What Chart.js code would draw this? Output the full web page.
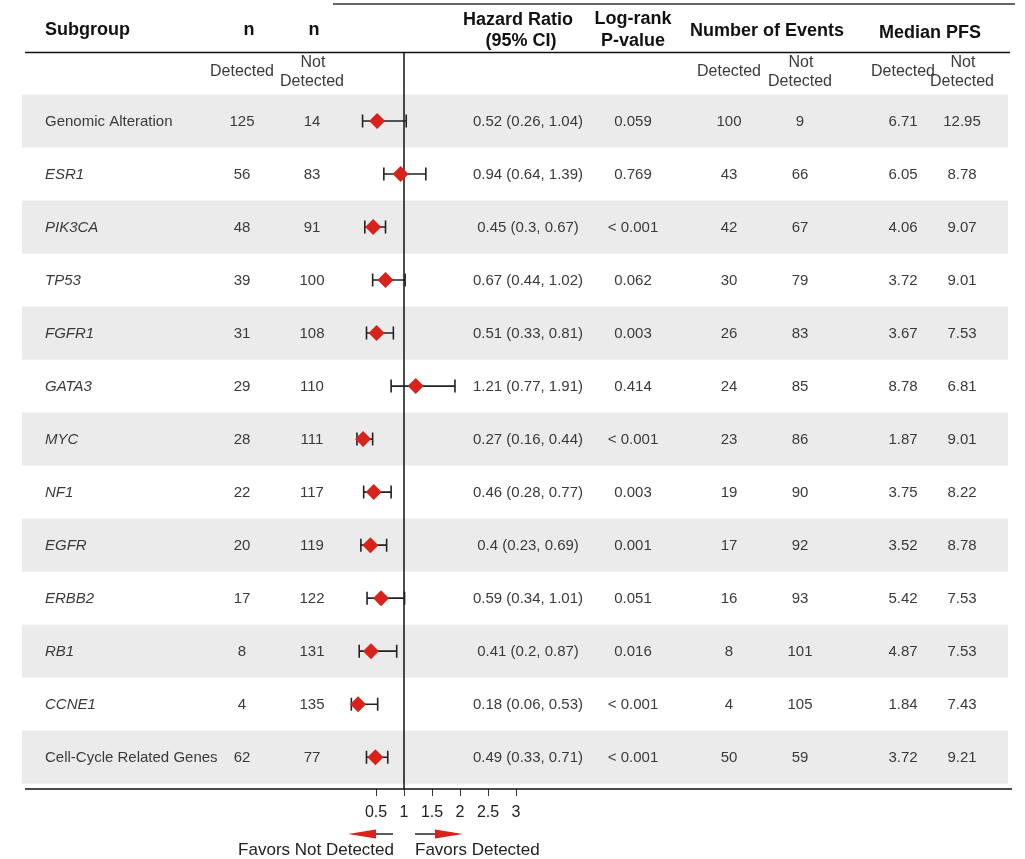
<!DOCTYPE html>
<html>
<head>
<meta charset="utf-8">
<title>Progression-free survival by subgroup</title>
<script src="https://cdn.jsdelivr.net/npm/chart.js@4.4.1/dist/chart.umd.min.js"></script>
<style>
  html, body { margin: 0; padding: 0; background: #ffffff; }
  #wrap { width: 1025px; height: 859px; }
</style>
</head>
<body>
<div id="wrap"><canvas id="forest" width="1025" height="859"></canvas></div>
<script>
// ---- table data ----
const subgroups = ['Genomic Alteration', 'ESR1', 'PIK3CA', 'TP53', 'FGFR1', 'GATA3', 'MYC',
                   'NF1', 'EGFR', 'ERBB2', 'RB1', 'CCNE1', 'Cell-Cycle Related Genes'];
const geneNames = [false, true, true, true, true, true, true, true, true, true, true, true, false];
const nDetected = [125, 56, 48, 39, 31, 29, 28, 22, 20, 17, 8, 4, 62];
const nNotDetected = [14, 83, 91, 100, 108, 110, 111, 117, 119, 122, 131, 135, 77];
const hazardRatio = [0.52, 0.94, 0.45, 0.67, 0.51, 1.21, 0.27, 0.46, 0.4, 0.59, 0.41, 0.18, 0.49];
const ciLower = [0.26, 0.64, 0.3, 0.44, 0.33, 0.77, 0.16, 0.28, 0.23, 0.34, 0.2, 0.06, 0.33];
const ciUpper = [1.04, 1.39, 0.67, 1.02, 0.81, 1.91, 0.44, 0.77, 0.69, 1.01, 0.87, 0.53, 0.71];
const pValues = ['0.059', '0.769', '< 0.001', '0.062', '0.003', '0.414', '< 0.001',
                 '0.003', '0.001', '0.051', '0.016', '< 0.001', '< 0.001'];
const eventsDetected = [100, 43, 42, 30, 26, 24, 23, 19, 17, 16, 8, 4, 50];
const eventsNotDetected = [9, 66, 67, 79, 83, 85, 86, 90, 92, 93, 101, 105, 59];
const medianPfsDetected = [6.71, 6.05, 4.06, 3.72, 3.67, 8.78, 1.87, 3.75, 3.52, 5.42, 4.87, 1.84, 3.72];
const medianPfsNotDetected = [12.95, 8.78, 9.07, 9.01, 7.53, 6.81, 9.01, 8.22, 8.78, 7.53, 7.53, 7.43, 9.21];
const hrTicks = [0.5, 1, 1.5, 2, 2.5, 3];

// ---- styling ----
const FONT = '"Liberation Sans", Arial, Helvetica, sans-serif';
const RED = '#d8231c';
const TEXT = '#3a3a3a';
const BAND = '#ebebeb';
const col = { subgroup: 45, nDet: 242, nNot: 312, hr: 528, p: 633, evDet: 729, evNot: 800, pfsDet: 903, pfsNot: 962 };
const rowIndex = subgroups.map((_, i) => i + 1);

function put(ctx, str, x, y, font, color, align) {
  ctx.font = font;
  ctx.fillStyle = color;
  ctx.textAlign = align || 'center';
  ctx.textBaseline = 'middle';
  ctx.fillText(str, x, y);
}
function hline(ctx, x1, x2, y, w, color) {
  ctx.beginPath();
  ctx.moveTo(x1, y);
  ctx.lineTo(x2, y);
  ctx.lineWidth = w;
  ctx.strokeStyle = color;
  ctx.stroke();
}

// shaded bands behind alternate rows
const bandsPlugin = {
  id: 'rowBands',
  beforeDraw(chart) {
    const ctx = chart.ctx;
    const ys = chart.scales.y;
    ctx.save();
    ctx.fillStyle = BAND;
    rowIndex.forEach((r, i) => {
      if (i % 2 === 0) {
        const top = ys.getPixelForValue(r - 0.5);
        const bot = ys.getPixelForValue(r + 0.5);
        ctx.fillRect(22, top, 986, bot - top);
      }
    });
    ctx.restore();
  }
};

// headers, rules, reference line, confidence intervals and table text
const tablePlugin = {
  id: 'forestTable',
  beforeDatasetsDraw(chart) {
    const ctx = chart.ctx;
    const xs = chart.scales.x;
    const ys = chart.scales.y;
    const bottomRule = chart.chartArea.bottom;
    ctx.save();

    // rules
    hline(ctx, 333, 1015, 4, 2, '#666666');
    hline(ctx, 25, 1010, 52.5, 1.5, '#111111');
    hline(ctx, 25, 1012, bottomRule, 1.5, '#111111');

    // reference line at HR = 1
    const x1 = xs.getPixelForValue(1);
    ctx.beginPath();
    ctx.moveTo(x1, 52.5);
    ctx.lineTo(x1, bottomRule);
    ctx.lineWidth = 1.5;
    ctx.strokeStyle = '#111111';
    ctx.stroke();

    // headers
    const H = 'bold 18px ' + FONT;
    put(ctx, 'Subgroup', col.subgroup, 30, H, '#111', 'left');
    put(ctx, 'n', 249, 30, H, '#111');
    put(ctx, 'n', 314, 30, H, '#111');
    put(ctx, 'Hazard Ratio', 518, 20, H, '#111');
    put(ctx, '(95% CI)', 521, 41, H, '#111');
    put(ctx, 'Log-rank', 633, 19, H, '#111');
    put(ctx, 'P-value', 633, 41, H, '#111');
    put(ctx, 'Number of Events', 767, 31, H, '#111');
    put(ctx, 'Median PFS', 930, 33, H, '#111');

    const S = '16px ' + FONT;
    [[col.nDet, col.nNot], [col.evDet, col.evNot], [col.pfsDet, col.pfsNot]].forEach(([a, b]) => {
      put(ctx, 'Detected', a, 72, S, TEXT);
      put(ctx, 'Not', b + 1, 63, S, TEXT);
      put(ctx, 'Detected', b, 82, S, TEXT);
    });

    // confidence intervals
    ctx.lineWidth = 1.6;
    ctx.strokeStyle = '#222222';
    rowIndex.forEach((r, i) => {
      const y = ys.getPixelForValue(r);
      const a = xs.getPixelForValue(ciLower[i]);
      const b = xs.getPixelForValue(ciUpper[i]);
      ctx.beginPath();
      ctx.moveTo(a, y); ctx.lineTo(b, y);
      ctx.moveTo(a, y - 6.5); ctx.lineTo(a, y + 6.5);
      ctx.moveTo(b, y - 6.5); ctx.lineTo(b, y + 6.5);
      ctx.stroke();
    });

    // table body
    const D = '15px ' + FONT;
    const DI = 'italic 15px ' + FONT;
    rowIndex.forEach((r, i) => {
      const y = ys.getPixelForValue(r) + 0.5;
      put(ctx, subgroups[i], col.subgroup, y, geneNames[i] ? DI : D, TEXT, 'left');
      put(ctx, String(nDetected[i]), col.nDet, y, D, TEXT);
      put(ctx, String(nNotDetected[i]), col.nNot, y, D, TEXT);
      put(ctx, hazardRatio[i] + ' (' + ciLower[i] + ', ' + ciUpper[i] + ')', col.hr, y, D, TEXT);
      put(ctx, pValues[i], col.p, y, D, TEXT);
      put(ctx, String(eventsDetected[i]), col.evDet, y, D, TEXT);
      put(ctx, String(eventsNotDetected[i]), col.evNot, y, D, TEXT);
      put(ctx, medianPfsDetected[i].toFixed(2), col.pfsDet, y, D, TEXT);
      put(ctx, medianPfsNotDetected[i].toFixed(2), col.pfsNot, y, D, TEXT);
    });

    // direction arrows under the axis
    const ay = 834;
    hline(ctx, x1 - 11, x1 - 36, ay, 1.6, '#333333');
    ctx.fillStyle = RED;
    ctx.beginPath();
    ctx.moveTo(x1 - 56, ay);
    ctx.lineTo(x1 - 28, ay - 4.5);
    ctx.lineTo(x1 - 28, ay + 4.5);
    ctx.closePath();
    ctx.fill();
    hline(ctx, x1 + 11, x1 + 38, ay, 1.6, '#333333');
    ctx.beginPath();
    ctx.moveTo(x1 + 59, ay);
    ctx.lineTo(x1 + 31, ay - 4.5);
    ctx.lineTo(x1 + 31, ay + 4.5);
    ctx.closePath();
    ctx.fill();
    const F = '17px ' + FONT;
    put(ctx, 'Favors Not Detected', x1 - 10, 850, F, '#222', 'right');
    put(ctx, 'Favors Detected', x1 + 11, 850, F, '#222', 'left');

    ctx.restore();
  }
};

new Chart(document.getElementById('forest'), {
  type: 'scatter',
  data: {
    datasets: [{
      label: 'Hazard ratio',
      data: rowIndex.map((r, i) => ({ x: hazardRatio[i], y: r })),
      pointStyle: 'rectRot',
      pointRadius: 8,
      pointHoverRadius: 8,
      backgroundColor: RED,
      borderColor: RED,
      borderWidth: 0,
      clip: false
    }]
  },
  options: {
    responsive: false,
    animation: false,
    events: [],
    layout: { padding: { left: 348, right: 509, top: 94.5, bottom: 0 } },
    plugins: { legend: { display: false }, tooltip: { enabled: false } },
    scales: {
      x: {
        type: 'linear',
        min: 0,
        max: 3,
        afterBuildTicks: (s) => { s.ticks = hrTicks.map(v => ({ value: v })); },
        afterFit: (s) => { s.height = 70; },
        border: { display: false },
        grid: { drawOnChartArea: false, drawTicks: true, tickLength: 7, color: '#333333', lineWidth: 1 },
        ticks: {
          padding: 7,
          color: '#222222',
          font: { family: FONT, size: 16 },
          maxRotation: 0,
          autoSkip: false,
          callback: (v) => String(v)
        }
      },
      y: {
        type: 'linear',
        reverse: true,
        min: 0.5,
        max: 13.6,
        display: false
      }
    }
  },
  plugins: [bandsPlugin, tablePlugin]
});
</script>
</body>
</html>
